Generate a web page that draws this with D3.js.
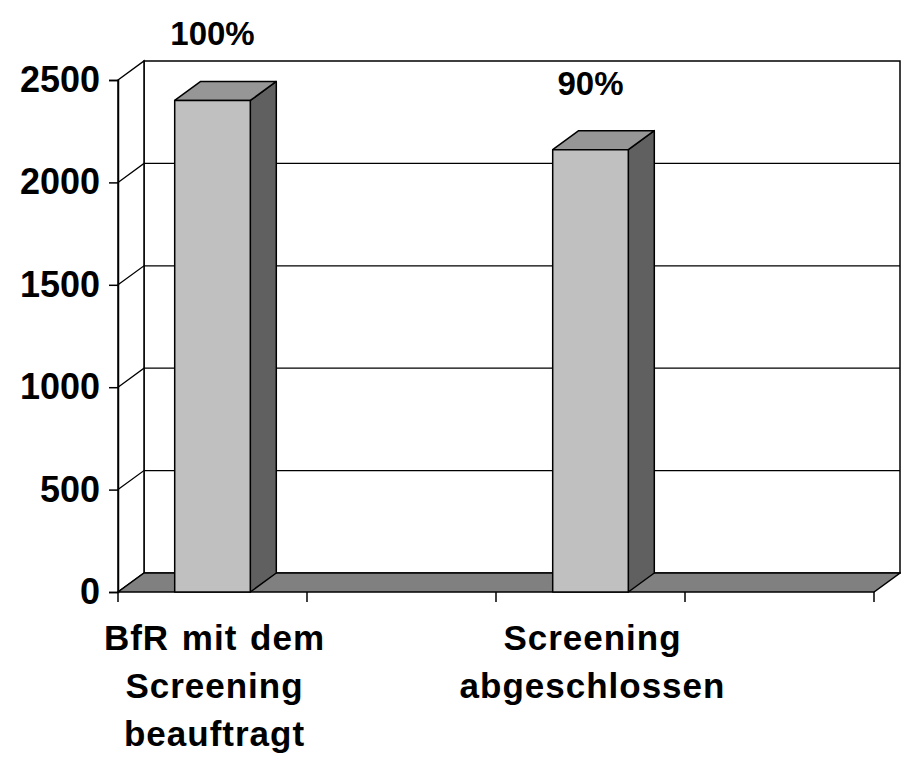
<!DOCTYPE html>
<html>
<head>
<meta charset="utf-8">
<script src="https://cdn.jsdelivr.net/npm/d3@7"></script>
<style>
  body { margin: 0; background: #fff; }
  svg { display: block; font-family: "Liberation Sans", Arial, sans-serif; }
</style>
</head>
<body>
<svg id="chart" width="901" height="758"></svg>
<script>
// Category slots (Excel chart had empty slots between the two bars)
const categories = ["BfR mit dem\nScreening\nbeauftragt", "", "Screening\nabgeschlossen", ""];
const values = [2400, null, 2160, null];
const percentLabels = ["100%", null, "90%", null];
const yTicks = [0, 500, 1000, 1500, 2000, 2500];

const width = 901;
const height = 758;
const margin = { top: 80, right: 27, bottom: 166, left: 118 };
const depth = { dx: 26, dy: -19 };

const svg = d3.select("#chart");

const x = d3
  .scaleBand()
  .domain(d3.range(categories.length))
  .range([margin.left, width - margin.right])
  .paddingInner(0)
  .paddingOuter(0);

const y = d3
  .scaleLinear()
  .domain([0, 2500])
  .range([height - margin.bottom, margin.top]);

const x0 = x.range()[0];
const x1 = x.range()[1];
const yBase = y(0);
const yTop = y(2500);

const line = d3.line();

// Back wall
svg
  .append("rect")
  .attr("x", x0 + depth.dx)
  .attr("y", yTop + depth.dy)
  .attr("width", x1 - x0)
  .attr("height", yBase - yTop)
  .attr("fill", "#fff")
  .attr("stroke", "#000")
  .attr("stroke-width", 1.5);

// Left side wall
svg
  .append("path")
  .attr(
    "d",
    line([
      [x0, yTop],
      [x0 + depth.dx, yTop + depth.dy],
      [x0 + depth.dx, yBase + depth.dy],
      [x0, yBase],
    ]) + "Z"
  )
  .attr("fill", "#fff")
  .attr("stroke", "#000")
  .attr("stroke-width", 1.5);

// Gridlines on back wall and side wall
const grid = svg.append("g").attr("class", "grid");
yTicks
  .filter((t) => t > 0 && t < 2500)
  .forEach((t) => {
    grid
      .append("path")
      .attr(
        "d",
        line([
          [x0, y(t)],
          [x0 + depth.dx, y(t) + depth.dy],
          [x1 + depth.dx, y(t) + depth.dy],
        ])
      )
      .attr("fill", "none")
      .attr("stroke", "#000")
      .attr("stroke-width", 1.3);
  });

// Floor
svg
  .append("path")
  .attr(
    "d",
    line([
      [x0, yBase],
      [x1, yBase],
      [x1 + depth.dx, yBase + depth.dy],
      [x0 + depth.dx, yBase + depth.dy],
    ]) + "Z"
  )
  .attr("fill", "#808080")
  .attr("stroke", "#000")
  .attr("stroke-width", 1.5);

// Bars
const barData = categories
  .map((c, i) => ({ i, value: values[i] }))
  .filter((d) => d.value !== null);

const barWidth = x.bandwidth() * 0.4;

const bars = svg
  .selectAll("g.bar")
  .data(barData)
  .enter()
  .append("g")
  .attr("class", "bar")
  .attr("stroke", "#000")
  .attr("stroke-width", 1.5)
  .attr("stroke-linejoin", "round");

const bx0 = (d) => x(d.i) + (x.bandwidth() - barWidth) / 2;
const bx1 = (d) => bx0(d) + barWidth;

// side face
bars
  .append("path")
  .attr("fill", "#606060")
  .attr(
    "d",
    (d) =>
      line([
        [bx1(d), y(d.value)],
        [bx1(d) + depth.dx, y(d.value) + depth.dy],
        [bx1(d) + depth.dx, yBase + depth.dy],
        [bx1(d), yBase],
      ]) + "Z"
  );

// top face
bars
  .append("path")
  .attr("fill", "#969696")
  .attr(
    "d",
    (d) =>
      line([
        [bx0(d), y(d.value)],
        [bx1(d), y(d.value)],
        [bx1(d) + depth.dx, y(d.value) + depth.dy],
        [bx0(d) + depth.dx, y(d.value) + depth.dy],
      ]) + "Z"
  );

// front face
bars
  .append("rect")
  .attr("fill", "#c0c0c0")
  .attr("x", bx0)
  .attr("y", (d) => y(d.value))
  .attr("width", barWidth)
  .attr("height", (d) => yBase - y(d.value));

// Percent labels above bars
svg
  .selectAll("text.pct")
  .data(barData)
  .enter()
  .append("text")
  .attr("class", "pct")
  .attr("x", (d) => x(d.i) + x.bandwidth() / 2)
  .attr("y", (d) => y(d.value) - 55)
  .attr("text-anchor", "middle")
  .attr("font-size", "33px")
  .attr("font-weight", "bold")
  .text((d) => percentLabels[d.i]);

// Y axis (front edge)
const yAxis = d3
  .axisLeft(y)
  .tickValues(yTicks)
  .tickSize(9)
  .tickPadding(9)
  .tickFormat(d3.format("d"));

const yAxisG = svg
  .append("g")
  .attr("transform", `translate(${x0},0)`)
  .call(yAxis);
yAxisG.select(".domain").attr("stroke-width", 1.5);
yAxisG.selectAll(".tick line").attr("stroke-width", 1.5);
yAxisG
  .selectAll(".tick text")
  .attr("font-size", "36px")
  .attr("font-weight", "bold")
  .attr("font-family", '"Liberation Sans", Arial, sans-serif')
  .attr("fill", "#000");

// X axis ticks along the front floor edge
const xTickPositions = [x0, ...d3.range(categories.length).map((i) => x(i) + x.bandwidth())];
svg
  .selectAll("line.xtick")
  .data(xTickPositions)
  .enter()
  .append("line")
  .attr("class", "xtick")
  .attr("x1", (d) => d)
  .attr("x2", (d) => d)
  .attr("y1", yBase)
  .attr("y2", yBase + 10)
  .attr("stroke", "#000")
  .attr("stroke-width", 1.5);

// Category labels
const catLabels = svg
  .selectAll("text.cat")
  .data(categories.map((c, i) => ({ c, i })).filter((d) => d.c !== ""))
  .enter()
  .append("text")
  .attr("class", "cat")
  .attr("text-anchor", "middle")
  .attr("font-size", "35px")
  .attr("font-weight", "bold")
  .attr("letter-spacing", "1px")
  .attr("word-spacing", "2px")
  .attr("x", (d) => x(d.i) + x.bandwidth() / 2 + 2)
  .attr("y", yBase + 58);

catLabels
  .selectAll("tspan")
  .data((d) => d.c.split("\n").map((t) => ({ t, x: x(d.i) + x.bandwidth() / 2 + 2 })))
  .enter()
  .append("tspan")
  .attr("x", (d) => d.x)
  .attr("dy", (d, k) => (k === 0 ? 0 : 48))
  .text((d) => d.t);
</script>
</body>
</html>
